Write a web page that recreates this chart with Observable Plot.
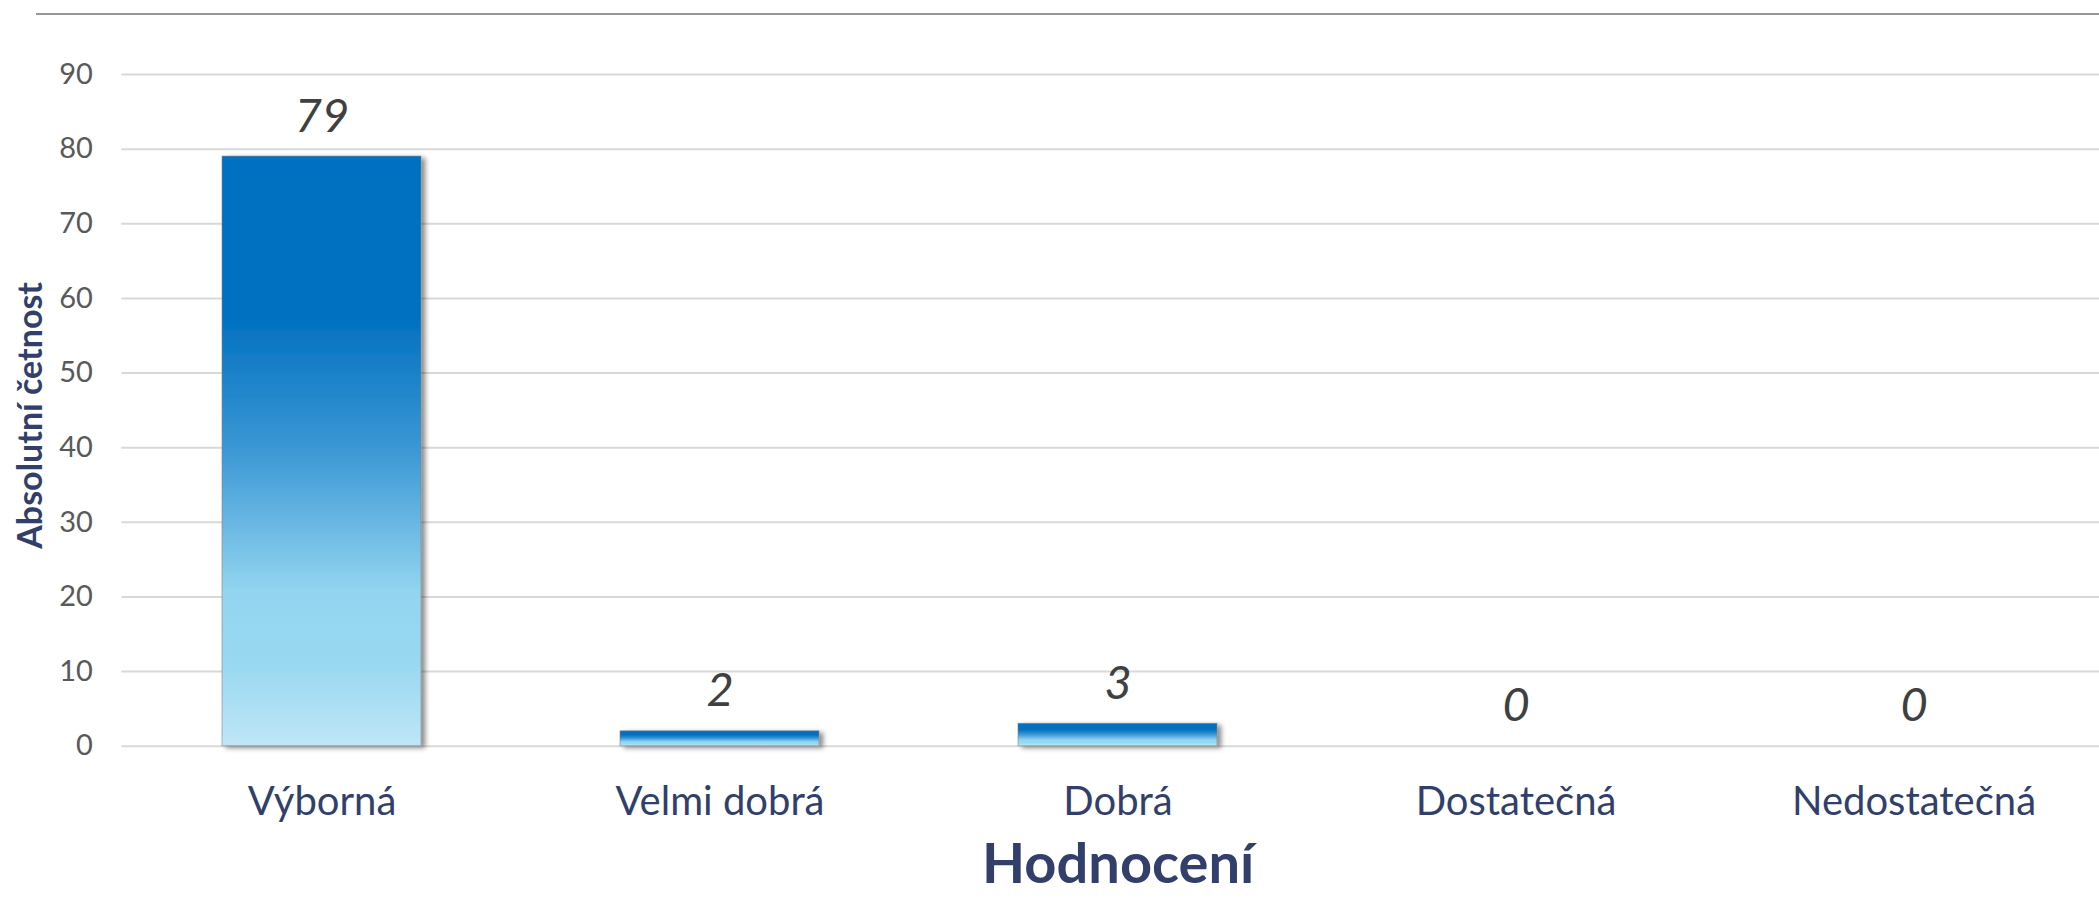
<!DOCTYPE html>
<html>
<head>
<meta charset="utf-8">
<script src="https://cdn.jsdelivr.net/npm/d3@7"></script>
<script src="https://cdn.jsdelivr.net/npm/@observablehq/plot@0.6"></script>
<style>
html, body { margin: 0; padding: 0; background: #fff; overflow: hidden; }
#wrap { position: relative; width: 2099px; height: 898px; }
#topline { position: absolute; left: 36px; right: 0; top: 13px; border-top: 2px solid #979797; }
#chart { position: absolute; left: 0; top: 0; }
</style>
</head>
<body>
<div id="wrap"><div id="chart"></div><div id="topline"></div></div>
<script>
const categories = ["Výborná", "Velmi dobrá", "Dobrá", "Dostatečná", "Nedostatečná"];
const counts = [79, 2, 3, 0, 0];
const yTicks = [0, 10, 20, 30, 40, 50, 60, 70, 80, 90];
const yTitle = "Absolutní četnost";
const xTitle = "Hodnocení";

const data = categories.map((c, i) => ({category: c, count: counts[i]}));

const navy = "#323f6b";

function defsMark() {
  const defs = d3.create("svg:defs");
  const g = defs.append("linearGradient")
    .attr("id", "barGrad").attr("x1", 0).attr("y1", 0).attr("x2", 0).attr("y2", 1);
  [[0, "#0070c0"], [0.27, "#0070c0"], [0.5, "#3c98d5"], [0.74, "#93d5f0"], [0.86, "#98d8f1"], [1, "#bfe6f6"]]
    .forEach(([o, c]) => g.append("stop").attr("offset", o).attr("stop-color", c));
  const f = defs.append("filter").attr("id", "barShadow")
    .attr("x", "-10%").attr("y", "-10%").attr("width", "130%").attr("height", "160%");
  f.append("feDropShadow").attr("dx", 4).attr("dy", 2).attr("stdDeviation", 2.5)
    .attr("flood-color", "#000").attr("flood-opacity", 0.45);
  return defs.node();
}

const chart = Plot.plot({
  width: 2099,
  height: 898,
  marginTop: 74,
  marginBottom: 152.3,
  marginLeft: 121.4,
  marginRight: -15,
  style: {fontFamily: "Lato, 'Open Sans', sans-serif", background: "white", overflow: "hidden"},
  x: {domain: categories, paddingInner: 0.5, paddingOuter: 0.25},
  y: {domain: [0, 90]},
  marks: [
    defsMark,
    Plot.ruleY(yTicks, {stroke: "#d9d9d9", strokeWidth: 2}),
    Plot.barY(data, {x: "category", y: "count", fill: "url(#barGrad)", stroke: "#7f7f7f", strokeOpacity: 0.55, strokeWidth: 1}),
    Plot.text(data, {x: "category", y: "count", text: d => String(d.count), dy: -25, lineAnchor: "bottom",
      fontSize: 47, fontStyle: "italic", fill: "#404040"}),
    Plot.axisY({ticks: yTicks, tickSize: 0, tickPadding: 29, fontSize: 29, fill: "#595959", label: null}),
    Plot.axisX({tickSize: 0, tickPadding: 40, fontSize: 40, fill: navy, label: null}),
    Plot.text([yTitle], {frameAnchor: "left", textAnchor: "middle", dx: -80, dy: 5, rotate: -90, lineAnchor: "bottom",
      fontSize: 34, fontWeight: "bold", fill: navy}),
    Plot.text([xTitle], {frameAnchor: "bottom", textAnchor: "middle", dy: 137, lineAnchor: "bottom",
      fontSize: 56, fontWeight: "bold", fill: navy})
  ]
});

d3.select(chart).selectAll('g[aria-label="bar"]').attr("filter", "url(#barShadow)");
document.getElementById("chart").appendChild(chart);
</script>
</body>
</html>
